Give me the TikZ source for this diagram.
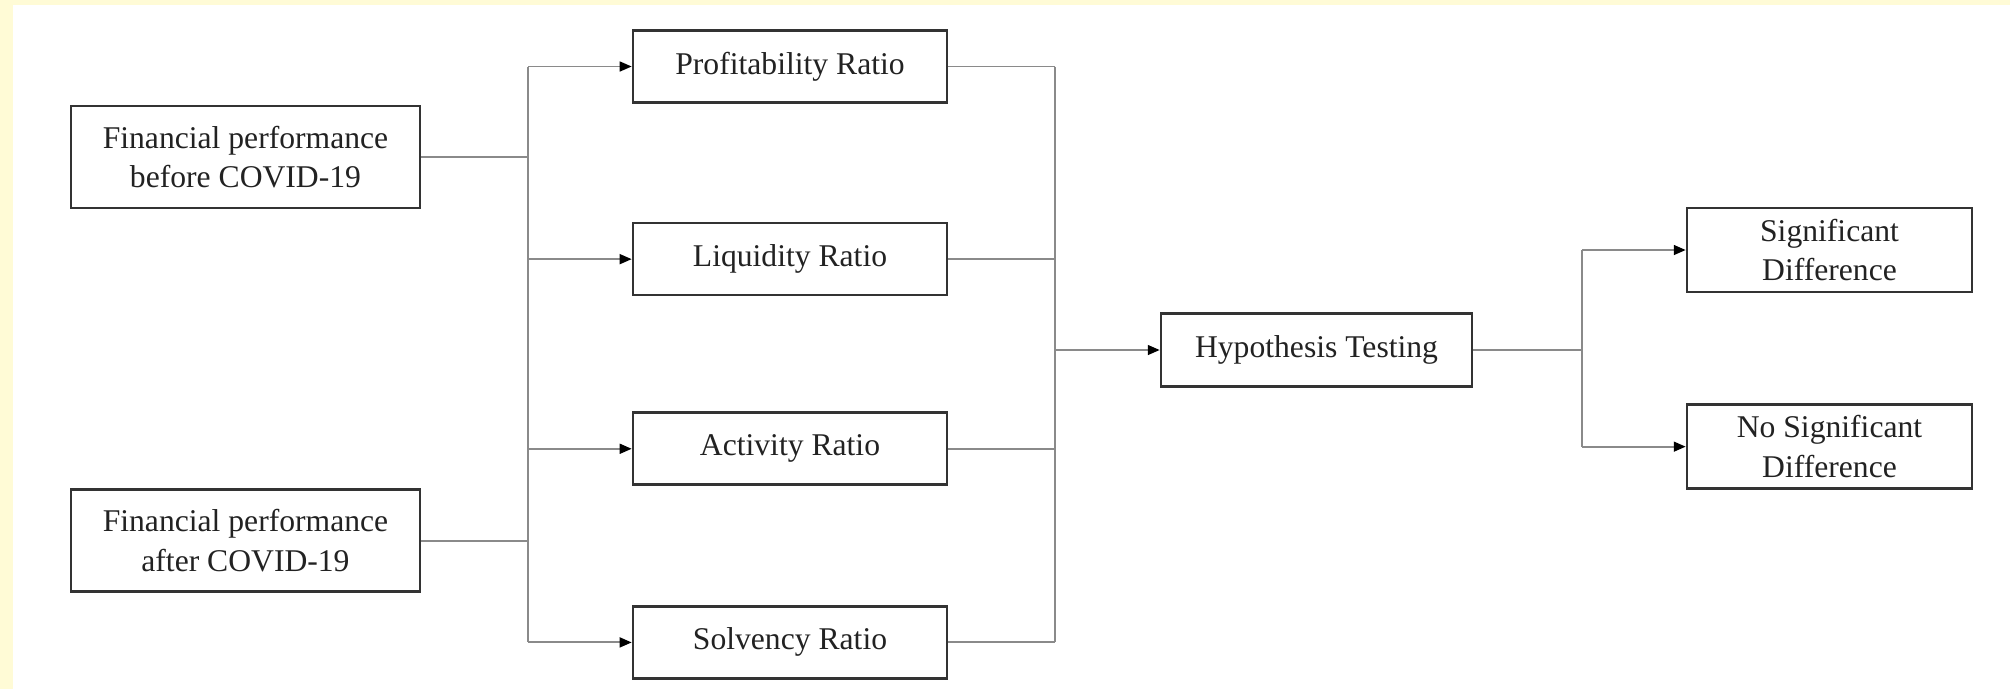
\documentclass[tikz,border=0pt]{standalone}
\usepackage{fontspec}
\setmainfont{Liberation Serif}
\usetikzlibrary{arrows.meta,positioning}
\definecolor{cpage}{HTML}{FFFBD6}
\definecolor{cbox}{HTML}{333333}
\definecolor{cline}{HTML}{8A8A8A}
\definecolor{ctext}{HTML}{222222}

\begin{document}
\begin{tikzpicture}[
    node distance=11mm and 10mm,
    base/.style={draw=cbox, fill=white, line width=0.75pt, align=center, text=ctext,
                 inner sep=2pt, font=\fontsize{9}{11.2}\selectfont},
    perf/.style={base, minimum width=3.49cm, minimum height=1.02cm},
    ratio/.style={base, minimum width=3.14cm, minimum height=0.72cm},
    test/.style={base, minimum width=3.11cm, minimum height=0.73cm},
    res/.style={base, minimum width=2.85cm, minimum height=0.84cm},
    lnk/.style={draw=cline, line width=0.55pt},
    arr/.style={lnk, -{Triangle[length=3.4pt,width=2.8pt,color=black]}}
]
% page margins
\useasboundingbox (0,0) rectangle (20.10,-6.89);
\fill[cpage] (0,0) rectangle (20.10,-6.89);
\fill[white] (0.13,-0.05) rectangle (20.10,-6.89);

\node[perf] (fb) at (2.455,-1.57) {Financial performance\\before COVID-19};
\node[perf, below=2.79cm of fb] (fa) {Financial performance\\after COVID-19};

\node[ratio] (prof) at (7.90,-0.665) {Profitability Ratio};
\node[ratio, below=1.18cm of prof] (liq) {Liquidity Ratio};
\node[ratio, below=1.15cm of liq] (act) {Activity Ratio};
\node[ratio, below=1.19cm of act] (solv) {Solvency Ratio};

\node[test] (hyp) at (13.165,-3.50) {Hypothesis Testing};

\node[res] (sig) at (18.295,-2.50) {Significant\\Difference};
\node[res, below=1.10cm of sig] (nosig) {No Significant\\Difference};

% bus lines
\coordinate (b1) at (5.28,0);
\coordinate (b2) at (10.55,0);
\coordinate (b3) at (15.82,0);

\draw[lnk] (fb.east) -- (fb.east -| b1);
\draw[lnk] (fa.east) -- (fa.east -| b1);
\draw[lnk] (prof.west -| b1) -- (solv.west -| b1);
\draw[arr] (prof.west -| b1) -- (prof.west);
\draw[arr] (liq.west -| b1) -- (liq.west);
\draw[arr] (act.west -| b1) -- (act.west);
\draw[arr] (solv.west -| b1) -- (solv.west);

\draw[lnk] (prof.east) -- (prof.east -| b2);
\draw[lnk] (liq.east) -- (liq.east -| b2);
\draw[lnk] (act.east) -- (act.east -| b2);
\draw[lnk] (solv.east) -- (solv.east -| b2);
\draw[lnk] (prof.east -| b2) -- (solv.east -| b2);
\draw[arr] (hyp.west -| b2) -- (hyp.west);

\draw[lnk] (hyp.east) -- (hyp.east -| b3);
\draw[lnk] (sig.west -| b3) -- (nosig.west -| b3);
\draw[arr] (sig.west -| b3) -- (sig.west);
\draw[arr] (nosig.west -| b3) -- (nosig.west);
\end{tikzpicture}
\end{document}
